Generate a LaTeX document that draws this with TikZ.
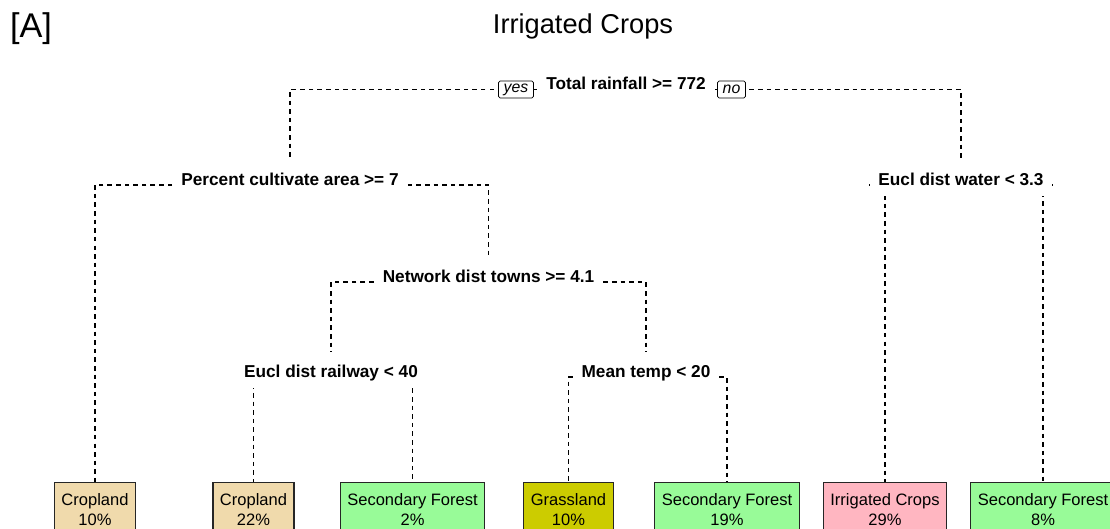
\documentclass[tikz,border=0pt]{standalone}
\usepackage{fontspec}
\setmainfont{Liberation Sans}
\usetikzlibrary{backgrounds}

\definecolor{cropland}{RGB}{240,218,172}
\definecolor{secforest}{RGB}{152,251,152}
\definecolor{grassland}{RGB}{204,204,0}
\definecolor{irrigated}{RGB}{255,182,193}

\tikzset{
  split/.style={font=\fontsize{9.8}{11}\selectfont\bfseries, fill=white,
    inner xsep=5pt, inner ysep=0.3pt, text height=6pt, text depth=6pt},
  leaf/.style={draw=black!85, line width=0.7pt, anchor=north, align=center,
    font=\fontsize{9.4}{11.4}\selectfont, inner xsep=4pt, inner ysep=6pt},
  answer/.style={draw, fill=white, rounded corners=1pt, inner xsep=3pt,
    inner ysep=0pt, minimum height=9.7pt, font=\fontsize{9}{10}\selectfont\itshape},
  branch/.style={line width=0.6pt, dash pattern=on 2.6pt off 2.3pt},
  tosplit/.style={branch, shorten >=8pt}
}

\begin{document}
\begin{tikzpicture}[x=0.02cm, y=-0.02cm]

    % Page size of the reference (pixels), leaves run off the bottom
    \useasboundingbox (0,0) rectangle (1110,528);
    \clip (0,0) rectangle (1110,528);

    % Panel letter and title
    \node[font=\fontsize{19.5}{22}\selectfont] (panel) at (31,29) {[A]};
    \node[font=\fontsize{15.5}{18}\selectfont] (title) at (583,26) {Irrigated Crops};

    % Split labels (node centre sits on the branch line)
    \node[split] (rain)  at (626,89.5) {Total rainfall >= 772};
    \node[split] (cult)  at (290,185)  {Percent cultivate area >= 7};
    \node[split] (water) at (961,185)  {Eucl dist water < 3.3};
    \node[split] (towns) at (488.5,282) {Network dist towns >= 4.1};
    \node[split] (rail)  at (331,377)  {Eucl dist railway < 40};
    \node[split] (temp)  at (646,377)  {Mean temp < 20};

    % Leaves: class and share of the observations
    \node[leaf, fill=cropland]  (crop1) at (95,482)    {Cropland\\10\%};
    \node[leaf, fill=cropland]  (crop2) at (253.5,482) {Cropland\\22\%};
    \node[leaf, fill=secforest] (sec1)  at (412.5,482) {Secondary Forest\\2\%};
    \node[leaf, fill=grassland] (grass) at (568.5,482) {Grassland\\10\%};
    \node[leaf, fill=secforest] (sec2)  at (727,482)   {Secondary Forest\\19\%};
    \node[leaf, fill=irrigated] (irr)   at (885,482)   {Irrigated Crops\\29\%};
    \node[leaf, fill=secforest] (sec3)  at (1043,482)  {Secondary Forest\\8\%};

    % Branches go behind the labels
    \begin{scope}[on background layer]
        \draw[tosplit] (rain) -| (cult.north);
        \draw[tosplit] (rain) -| (water.north);
        \draw[branch]  (cult) -| (crop1.north);
        \draw[tosplit] (cult) -| (towns.north);
        \draw[tosplit] (towns) -| (rail.north);
        \draw[tosplit] (towns) -| (temp.north);
        \draw[branch]  (rail) -| (crop2.north);
        \draw[branch]  (rail) -| (sec1.north);
        \draw[branch]  (temp) -| (grass.north);
        \draw[branch]  (temp) -| (sec2.north);
        \draw[branch]  (water) -| (irr.north);
        \draw[branch]  (water) -| (sec3.north);
    \end{scope}

    % yes / no tags on the first split
    \node[answer] (yes) at (516,89.5) {yes};
    \node[answer] (no)  at (731.5,89.5) {no};

\end{tikzpicture}
\end{document}
